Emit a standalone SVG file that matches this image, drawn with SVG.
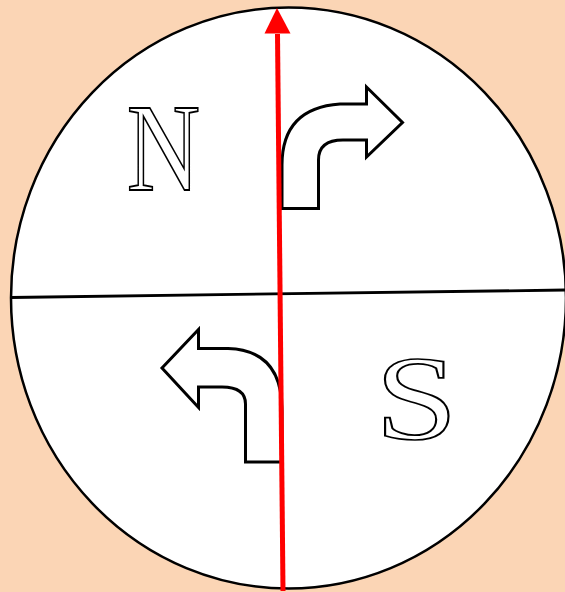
<svg xmlns="http://www.w3.org/2000/svg" width="565" height="592" viewBox="0 0 565 592">
  <style>
    .outline { fill: #ffffff; stroke: #000000; stroke-width: 2.5; stroke-linejoin: miter; }
    .turn { fill: #ffffff; stroke: #000000; stroke-width: 3; stroke-linejoin: miter; }
    .letter { font-family: "Liberation Serif", "DejaVu Serif", serif; font-size: 124px; fill: #ffffff; stroke: #000000; stroke-width: 1.8; text-anchor: middle; }
    .divider { stroke: #000000; stroke-width: 2.8; fill: none; }
    .redline { stroke: #ff0000; stroke-width: 5; fill: none; }
  </style>
  <rect x="0" y="0" width="565" height="592" fill="#fbd5b5"/>
  <g id="disc">
    <ellipse class="outline" cx="288.5" cy="298" rx="277.5" ry="290.5"/>
  </g>
  <g id="divider">
    <line class="divider" x1="11" y1="297.5" x2="566" y2="290"/>
  </g>
  <g id="label-N">
    <text class="letter" transform="translate(163.5,190) scale(0.82,1)" x="0" y="0">N</text>
  </g>
  <g id="label-S">
    <text class="letter" transform="translate(416.5,439) scale(1.2,0.97)" x="0" y="0">S</text>
  </g>
  <g id="turn-right">
    <path class="turn" d="M282 208.5 L318.5 208.5 L318.5 160 Q318.5 140 343 140 L366.5 140 L366.5 157 L402.5 122.5 L366.5 87 L366.5 104 L340 104 Q282 108 282 165 Z"/>
  </g>
  <g id="turn-left">
    <path class="turn" d="M282 462 L245.5 462 L245.5 404 Q245.5 387 222 387 L198.5 387 L198.5 407.5 L162 368 L198.5 329.5 L198.5 348.5 L228 348.5 Q282 350 282 410 Z"/>
  </g>
  <g id="connectors">
    <line class="redline" x1="283" y1="591" x2="277.5" y2="34" />
    <path d="M264.5 33.5 L277 8 L290.5 33.5 Z" fill="#ff0000"/>
  </g>
</svg>
